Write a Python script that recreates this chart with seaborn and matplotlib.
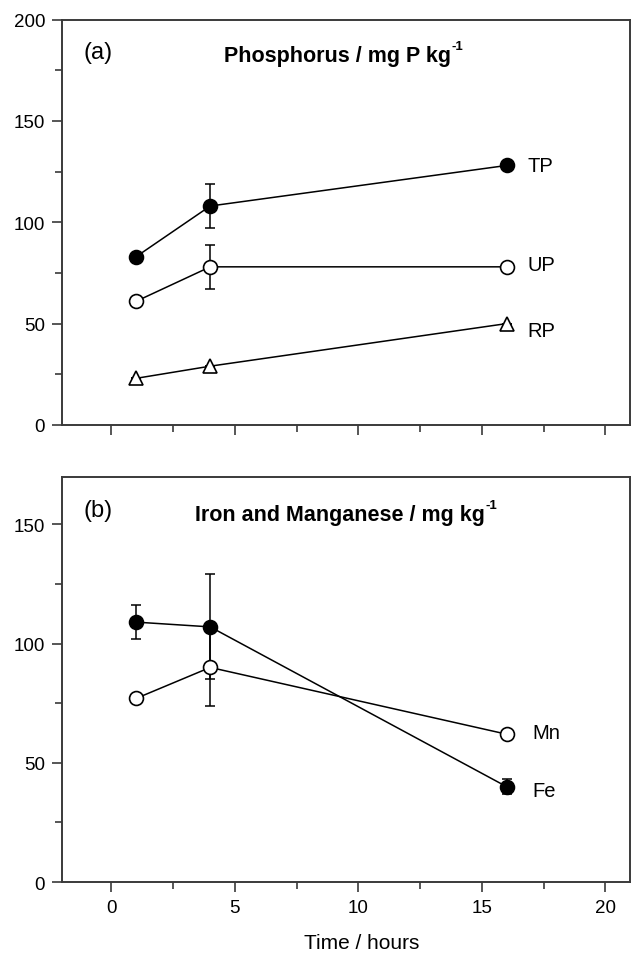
import matplotlib
matplotlib.use("Agg")
import matplotlib.pyplot as plt
import seaborn as sns
from matplotlib.ticker import MultipleLocator

# Sampling times (hours)
time_h = [1, 4, 16]

# Panel (a): phosphorus fractions, mg P kg-1
tp = [83, 108, 128]
tp_err = [0, 11, 0]
up = [61, 78, 78]
up_err = [0, 11, 0]
rp = [23, 29, 50]
rp_err = [0, 0, 0]

# Panel (b): iron and manganese, mg kg-1
fe = [109, 107, 40]
fe_err = [7, 22, 3]
mn = [77, 90, 62]
mn_err = [0, 16, 0]

x_ticks = [0, 5, 10, 15, 20]

sns.set_theme(style="ticks")
plt.rcParams["font.family"] = ["Liberation Sans", "DejaVu Sans"]
plt.rcParams["text.color"] = "black"
plt.rcParams["axes.labelcolor"] = "black"

SPINE = "#3a3a3a"

fig = plt.figure(figsize=(6.31, 9.54), dpi=100)
ax_a = fig.add_axes([0.0983, 0.5535, 0.9002, 0.4250])
ax_b = fig.add_axes([0.0983, 0.0744, 0.9002, 0.4249])


def style_axes(ax, ymax, show_xlabels):
    ax.set_xlim(-2, 21)
    ax.set_ylim(0, ymax)
    ax.xaxis.set_major_locator(MultipleLocator(5))
    ax.xaxis.set_minor_locator(MultipleLocator(2.5))
    ax.yaxis.set_major_locator(MultipleLocator(50))
    ax.yaxis.set_minor_locator(MultipleLocator(25))
    for s in ax.spines.values():
        s.set_visible(True)
        s.set_color(SPINE)
        s.set_linewidth(1.4)
    ax.tick_params(which="major", direction="out", length=7.2, width=1.2,
                   color=SPINE, labelsize=13.5, pad=5, labelcolor="black")
    ax.tick_params(which="minor", direction="out", length=5, width=1.2,
                   color=SPINE)
    ax.tick_params(axis="x", labelbottom=show_xlabels)
    ax.set_xlabel("")
    ax.set_ylabel("")
    ax.grid(False)


def draw_series(ax, y, err, marker, filled):
    ax.errorbar(time_h, y, yerr=err, fmt="none", ecolor="black",
                elinewidth=1.1, capsize=3.6, capthick=1.1, zorder=2)
    sns.lineplot(x=time_h, y=y, ax=ax, color="black", linewidth=1.1,
                 marker=marker, markersize=10,
                 markerfacecolor="black" if filled else "white",
                 markeredgecolor="black", markeredgewidth=1.2,
                 errorbar=None, zorder=3)


def end_label(ax, text, y_end, dx, dy):
    ax.annotate(text, xy=(time_h[-1], y_end), xytext=(dx, dy),
                textcoords="offset points", ha="left", va="baseline",
                fontsize=14.5, color="black")


def panel_title(ax, x, y, main, sup):
    # bold heading with a hyphenated "-1" superscript placed after it
    t = ax.text(x, y, main, transform=ax.transAxes, fontsize=15.5,
                fontweight="bold", ha="left", va="baseline", color="black")
    ax.annotate(sup, xy=(1.0, 1.0), xycoords=t, xytext=(0.5, -4.5),
                textcoords="offset points", fontsize=9.5, fontweight="bold",
                ha="left", va="bottom", color="black")


# Panel (a)
draw_series(ax_a, tp, tp_err, "o", True)
draw_series(ax_a, up, up_err, "o", False)
draw_series(ax_a, rp, rp_err, "^", False)
style_axes(ax_a, 200, False)
end_label(ax_a, "TP", tp[-1], 15, -4)
end_label(ax_a, "UP", up[-1], 15, -2.2)
end_label(ax_a, "RP", rp[-1], 15, -8.8)
ax_a.text(0.038, 0.906, "(a)", transform=ax_a.transAxes, fontsize=17,
          ha="left", va="baseline", color="black")
panel_title(ax_a, 0.285, 0.897, "Phosphorus / mg P kg", "-1")

# Panel (b)
draw_series(ax_b, fe, fe_err, "o", True)
draw_series(ax_b, mn, mn_err, "o", False)
style_axes(ax_b, 170, True)
ax_b.set_xticks(x_ticks)
end_label(ax_b, "Mn", mn[-1], 18.5, -3.1)
end_label(ax_b, "Fe", fe[-1], 18.5, -7)
ax_b.text(0.038, 0.904, "(b)", transform=ax_b.transAxes, fontsize=17,
          ha="left", va="baseline", color="black")
panel_title(ax_b, 0.234, 0.892, "Iron and Manganese / mg kg", "-1")
ax_b.set_xlabel("Time / hours", fontsize=15, color="black")
ax_b.xaxis.set_label_coords(0.528, -0.125)

fig.savefig("out.png", dpi=100, facecolor="white")
